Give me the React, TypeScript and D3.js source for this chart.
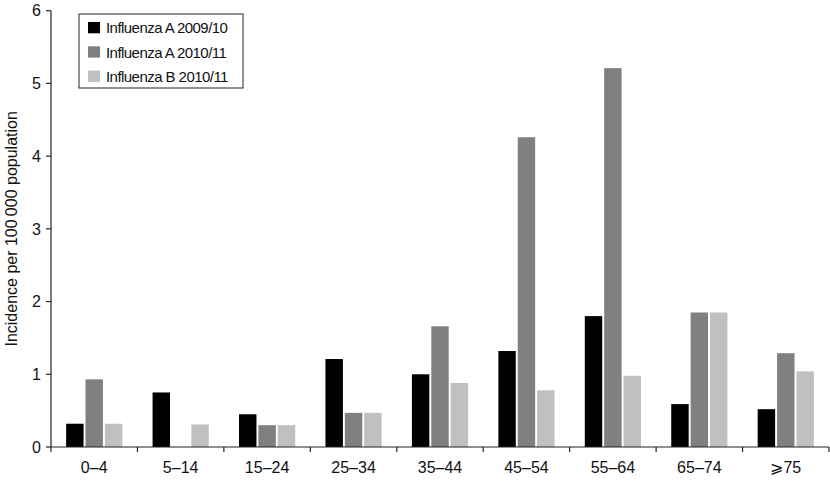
import React from 'react';
import * as d3 from 'd3';

const categories = ['0–4', '5–14', '15–24', '25–34', '35–44', '45–54', '55–64', '65–74', '⩾75'];
const seriesNames = ['Influenza A 2009/10', 'Influenza A 2010/11', 'Influenza B 2010/11'];
const fluA0910 = [0.32, 0.75, 0.45, 1.21, 1.0, 1.32, 1.8, 0.59, 0.52];
const fluA1011 = [0.93, 0, 0.3, 0.47, 1.66, 4.26, 5.21, 1.85, 1.29];
const fluB1011 = [0.32, 0.31, 0.3, 0.47, 0.88, 0.78, 0.98, 1.85, 1.04];
const yTicks = [0, 1, 2, 3, 4, 5, 6];
const colors = ['#000000', '#808080', '#c0c0c0'];

const width = 830;
const height = 495;
const margin = { top: 10.7, right: 1, bottom: 48, left: 51 };
const font = '"Liberation Sans", Arial, Helvetica, sans-serif';

export default function App() {
  const series = [fluA0910, fluA1011, fluB1011];
  const y0 = height - margin.bottom;

  const x = d3.scaleBand<string>()
    .domain(categories)
    .range([margin.left, width - margin.right])
    .paddingInner(0.35)
    .paddingOuter(0.175);

  const xInner = d3.scaleBand<string>()
    .domain(seriesNames)
    .range([0, x.bandwidth()])
    .paddingInner(0.1)
    .paddingOuter(0);

  const y = d3.scaleLinear()
    .domain([0, 6])
    .range([y0, margin.top]);

  const step = x.step();
  const boundaries = d3.range(categories.length + 1).map(i => margin.left + i * step);

  return (
    <svg width={width} height={height} style={{ position: 'absolute', left: 0, top: 0, background: '#fff' }}
      fontFamily={font}>
      {/* bars */}
      {categories.map((c, i) => (
        <g key={c} transform={`translate(${x(c)},0)`}>
          {series.map((s, j) => s[i] > 0 && (
            <rect key={j}
              x={xInner(seriesNames[j])}
              y={y(s[i])}
              width={xInner.bandwidth()}
              height={y0 - y(s[i])}
              fill={colors[j]} />
          ))}
        </g>
      ))}

      {/* y axis */}
      <line x1={margin.left} x2={margin.left} y1={margin.top} y2={y0} stroke="#222" strokeWidth={1.2} />
      {yTicks.map(t => (
        <g key={t} transform={`translate(0,${y(t)})`}>
          <line x1={margin.left - 5} x2={margin.left} stroke="#222" strokeWidth={1.2} />
          <text x={margin.left - 10} dy="0.36em" textAnchor="end" fontSize={16} fill="#111">{t}</text>
        </g>
      ))}

      {/* x axis */}
      <line x1={margin.left} x2={width - margin.right} y1={y0} y2={y0} stroke="#222" strokeWidth={1.2} />
      {boundaries.map((b, i) => (
        <line key={i} x1={b} x2={b} y1={y0} y2={y0 + 5} stroke="#222" strokeWidth={1.2} />
      ))}
      {categories.map(c => (
        <text key={c} x={(x(c) || 0) + x.bandwidth() / 2} y={y0 + 26.3} textAnchor="middle" fontSize={16} fill="#111">{c}</text>
      ))}

      {/* y title */}
      <text transform={`translate(17,${(margin.top + y0) / 2}) rotate(-90)`} textAnchor="middle" fontSize={16} fill="#111">
        Incidence per 100&#8201;000 population
      </text>

      {/* legend */}
      <g>
        <rect x={79} y={14} width={164} height={74} fill="#fff" stroke="#222" strokeWidth={1} />
        {seriesNames.map((n, j) => (
          <g key={n} transform={`translate(88,${22 + j * 24.3})`}>
            <rect width={12} height={11.3} fill={colors[j]} />
            <text x={18} y={11.3} fontSize={15} letterSpacing={-0.55} fill="#111">{n}</text>
          </g>
        ))}
      </g>
    </svg>
  );
}
